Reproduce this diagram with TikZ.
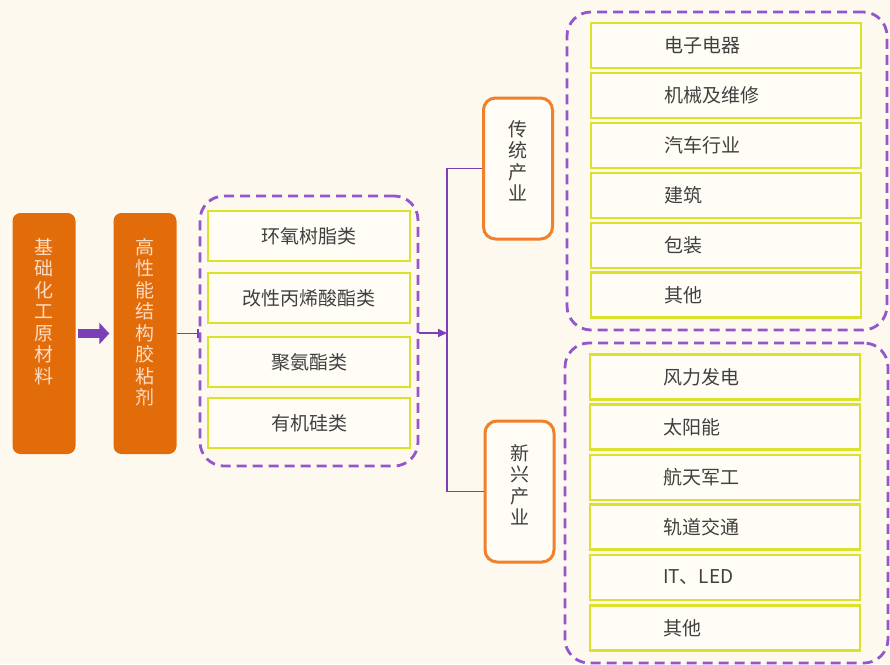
\documentclass[tikz,border=0pt]{standalone}
\usepackage{fontspec}
\setmainfont{Noto Sans CJK SC}
\usetikzlibrary{arrows.meta}
\definecolor{bg}{HTML}{FDF9EF}
\definecolor{boxfill}{HTML}{FFFDF6}
\definecolor{ora}{HTML}{E36C0A}
\definecolor{oraline}{HTML}{F0802A}
\definecolor{peach}{HTML}{FBDCC4}
\definecolor{ylw}{HTML}{DCE12A}
\definecolor{pur}{HTML}{7B3FBA}
\definecolor{purd}{HTML}{9456CC}
\definecolor{txt}{HTML}{404040}
\tikzset{
  obox/.style={fill=ora, rounded corners=8pt, minimum width=63pt, minimum height=241pt, inner sep=0pt},
  vtext/.style={align=center, inner sep=0pt, font=\fontsize{19}{21.5}\selectfont},
  lbox/.style={draw=ylw, line width=2.5pt, fill=boxfill, minimum width=202pt, minimum height=50pt, inner sep=0pt, text=txt, font=\fontsize{19}{22}\selectfont},
  rbox/.style={draw=ylw, line width=2.5pt, fill=boxfill, minimum height=45pt, inner ysep=0pt, inner xsep=73pt, text width=124pt, align=left, text=txt, font=\fontsize{19}{22}\selectfont},
  grp/.style={draw=purd, line width=2.8pt, dash pattern=on 10pt off 6pt, rounded corners=24pt, inner sep=0pt},
  indbox/.style={draw=oraline, line width=3pt, fill=boxfill, rounded corners=12pt, inner sep=0pt, minimum width=69pt, minimum height=141pt},
  pline/.style={draw=pur, line width=1.8pt},
  parrow/.style={draw=pur, line width=9pt, -{Triangle[length=10pt,width=21pt]}},
}
\begin{document}
\begin{tikzpicture}[x=1pt,y=-1pt]
\fill[bg] (0,0) rectangle (890,664);
\useasboundingbox (0,0) rectangle (890,664);

% left orange boxes
\node[obox] (b1) at (44,333.5) {};
\node[obox] (b2) at (145,333.5) {};
\node[vtext, text=peach, anchor=north] (b1t) at (44,238) {基\\础\\化\\工\\原\\材\\料};
\node[vtext, text=peach, anchor=north] (b2t) at (145,238) {高\\性\\能\\结\\构\\胶\\粘\\剂};
\draw[parrow, shorten <=2pt, shorten >=4pt] (b1) -- (b2);

% adhesive types group
\node[grp, minimum width=218pt, minimum height=270pt] (g1) at (309,331) {};
\node[lbox] (l1) at (309,236) {环氧树脂类};
\node[lbox] (l2) at (309,298) {改性丙烯酸酯类};
\node[lbox] (l3) at (309,362) {聚氨酯类};
\node[lbox] (l4) at (309,423) {有机硅类};
\draw[pline, -{Bar[width=9pt,line width=1.8pt]}] (b2.east) -- (b2.east -| g1.west);

% junction
\coordinate (junc) at (447,333);
\draw[pline, -{Triangle[length=9pt,width=8pt]}] (junc -| g1.east) -- (junc);

% industry boxes
\node[indbox] (trad) at (518,168.5) {};
\node[vtext, text=txt] (tradt) at (518,161) {传\\统\\产\\业};
\node[indbox] (new) at (519.5,491.5) {};
\node[vtext, text=txt] (newt) at (519.5,484.5) {新\\兴\\产\\业};
\draw[pline] (junc) |- (trad.west);
\draw[pline] (junc) |- (new.west);

% traditional industries
\node[grp, minimum width=320pt, minimum height=318pt] (g2) at (727,171) {};
\node[rbox] (t1) at (726,45.5) {电子电器};
\node[rbox] (t2) at (726,95.5) {机械及维修};
\node[rbox] (t3) at (726,145.5) {汽车行业};
\node[rbox] (t4) at (726,195.5) {建筑};
\node[rbox] (t5) at (726,245.5) {包装};
\node[rbox] (t6) at (726,295) {其他};

% emerging industries
\node[grp, minimum width=323pt, minimum height=320pt] (g3) at (726.5,503) {};
\node[rbox] (n1) at (725,377) {风力发电};
\node[rbox] (n2) at (725,427) {太阳能};
\node[rbox] (n3) at (725,477.5) {航天军工};
\node[rbox] (n4) at (725,527) {轨道交通};
\node[rbox] (n5) at (725,577.5) {IT、LED};
\node[rbox] (n6) at (725,628) {其他};
\end{tikzpicture}
\end{document}
